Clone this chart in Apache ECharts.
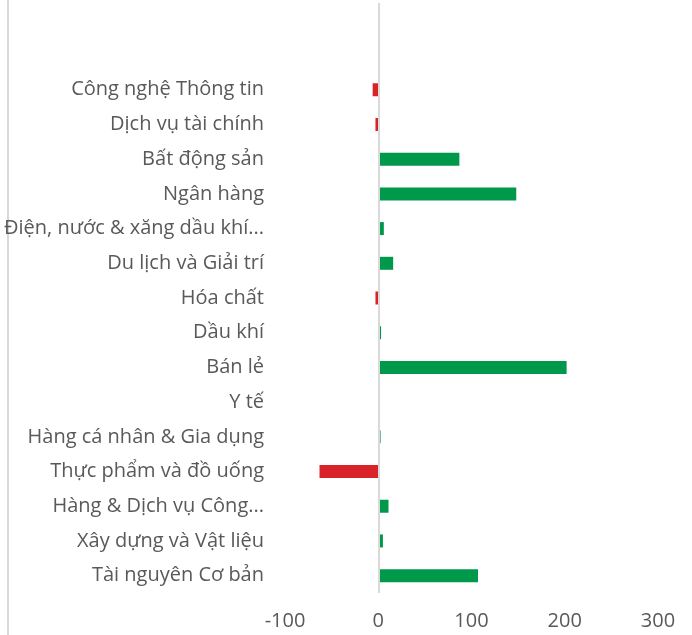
<!DOCTYPE html>
<html>
<head>
<meta charset="utf-8">
<script src="https://cdn.jsdelivr.net/npm/echarts@6/dist/echarts.min.js"></script>
<style>
  html, body { margin: 0; padding: 0; background: #fff; }
  #frame { position: absolute; left: 7px; top: 0; width: 2px; height: 635px; background: #d9d9d9; }
  #chart { position: absolute; left: 0; top: 0; width: 692px; height: 635px; }
</style>
</head>
<body>
<div id="frame"></div>
<div id="chart"></div>
<script>
// nganh, tu tren xuong duoi
var categories = [
  'Công nghệ Thông tin',
  'Dịch vụ tài chính',
  'Bất động sản',
  'Ngân hàng',
  'Điện, nước & xăng dầu khí...',
  'Du lịch và Giải trí',
  'Hóa chất',
  'Dầu khí',
  'Bán lẻ',
  'Y tế',
  'Hàng cá nhân & Gia dụng',
  'Thực phẩm và đồ uống',
  'Hàng & Dịch vụ Công...',
  'Xây dựng và Vật liệu',
  'Tài nguyên Cơ bản'
];
var values = [-6, -3, 87, 148, 6, 16, -3, 3, 202, 0, 2.5, -63, 11, 5, 107];
var xTicks = [-100, 0, 100, 200, 300];

var chart = echarts.init(document.getElementById('chart'));

// 2 o trong phia tren de truc 0 keo len sat mep tren
var yData = ['', ''].concat(categories);
var barData = [null, null].concat(values);

var option = {
  animation: false,
  textStyle: { fontFamily: 'Open Sans' },
  grid: { left: 285, right: 34, top: 3, bottom: 42, containLabel: false },
  xAxis: {
    type: 'value',
    min: xTicks[0],
    max: xTicks[xTicks.length - 1],
    interval: 100,
    axisLine: { show: false },
    axisTick: { show: false },
    splitLine: { show: false },
    axisLabel: { color: '#595959', fontSize: 20, margin: 18 }
  },
  yAxis: {
    type: 'category',
    inverse: true,
    data: yData,
    axisLine: { show: false, onZero: false },
    axisTick: { show: false },
    axisLabel: { color: '#595959', fontSize: 20, margin: 21 }
  },
  series: [
    {
      // duong truc 0 nam duoi cac cot
      type: 'line',
      data: [],
      z: 1,
      markLine: {
        silent: true,
        symbol: 'none',
        label: { show: false },
        lineStyle: { color: '#d9d9d9', width: 2, type: 'solid' },
        data: [{ xAxis: 0 }]
      }
    },
    {
      type: 'bar',
      z: 3,
      data: barData,
      barWidth: 13,
      itemStyle: {
        color: function (p) { return p.value < 0 ? '#da2229' : '#00994c'; }
      }
    }
  ]
};

chart.setOption(option);
</script>
</body>
</html>
